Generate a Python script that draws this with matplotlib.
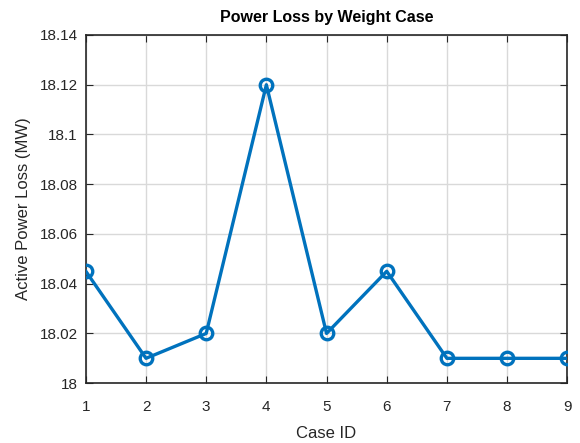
import matplotlib
matplotlib.use("Agg")
import matplotlib.pyplot as plt

case_ids = [1, 2, 3, 4, 5, 6, 7, 8, 9]
power_loss = [18.045, 18.01, 18.02, 18.12, 18.02, 18.045, 18.01, 18.01, 18.01]
y_ticks = [18, 18.02, 18.04, 18.06, 18.08, 18.1, 18.12, 18.14]
y_labels = ["18", "18.02", "18.04", "18.06", "18.08", "18.1", "18.12", "18.14"]

plt.rcParams['font.family'] = ['Liberation Sans', 'DejaVu Sans']

fig = plt.figure(figsize=(5.8, 4.43), dpi=100)
ax = fig.add_axes([0.148, 0.135, 0.83, 0.786])

ax.plot(case_ids, power_loss, color='#0072BD', linewidth=2.4, marker='o',
        markersize=9, markerfacecolor='none', markeredgewidth=2.4, zorder=3)

ax.set_xlim(1, 9)
ax.set_ylim(18, 18.14)
ax.set_xticks(case_ids)
ax.set_yticks(y_ticks)
ax.set_yticklabels(y_labels)
ax.grid(True, color='#d9d9d9', linewidth=1)
ax.tick_params(direction='in', top=True, right=True, labelsize=11,
               labelcolor='#262626', color='#262626', length=5)
ax.tick_params(axis='x', pad=12)
ax.tick_params(axis='y', pad=6)
for s in ax.spines.values():
    s.set_color('#262626')
    s.set_linewidth(1.2)

ax.set_title("Power Loss by Weight Case", fontsize=11.5, fontweight='bold', color='black', pad=9)
ax.set_xlabel("Case ID", fontsize=12, color='#262626', labelpad=9)
ax.set_ylabel("Active Power Loss (MW)", fontsize=12, color='#262626', labelpad=6)

fig.savefig("out.png", dpi=100)
